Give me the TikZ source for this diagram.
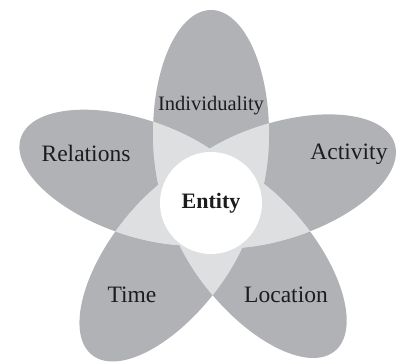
\documentclass[tikz,border=0pt]{standalone}
\usepackage{fontspec}
\setmainfont{Liberation Serif}
\definecolor{petalgray}{RGB}{176,178,181}
\definecolor{overlapgray}{RGB}{221,223,225}
\definecolor{labelink}{RGB}{28,28,28}
\tikzset{
  petalfill/.style={fill=petalgray},
  overlapfill/.style={fill=overlapgray},
  petallabel/.style={text=labelink, font=\fontsize{23.5}{26}\selectfont}
}
\begin{document}
\begin{tikzpicture}[x=1pt,y=1pt]
        \useasboundingbox (-211,-160) rectangle (187,203);
        \foreach \a/\d in {90/70,161/78,18/70,232/70,310/70}
          \fill[petalfill, rotate=\a-90] (0,\d) ellipse (58pt and 123pt);
        \foreach \a/\d in {90/70,161/78,18/70,232/70,310/70}{
          \foreach \b/\e in {90/70,161/78,18/70,232/70,310/70}{
            \ifnum\a=\b\relax\else
            \begin{scope}
              \clip[rotate=\a-90] (0,\d) ellipse (58pt and 123pt);
              \fill[overlapfill, rotate=\b-90] (0,\e) ellipse (58pt and 123pt);
            \end{scope}
            \fi
          }
        }
        \node[circle, fill=white, minimum size=102pt, inner sep=0pt, petallabel, font=\fontsize{22}{24}\selectfont\bfseries] (E) at (0,0) {Entity};
        \node[petallabel, font=\fontsize{20.5}{24}\selectfont] (I) at (0,97) {Individuality};
        \node[petallabel] (R) at (-125,50) {Relations};
        \node[petallabel] (A) at (138,49) {Activity};
        \node[petallabel] (T) at (-79,-92) {Time};
        \node[petallabel] (L) at (75,-92) {Location};
      \end{tikzpicture}
\end{document}
